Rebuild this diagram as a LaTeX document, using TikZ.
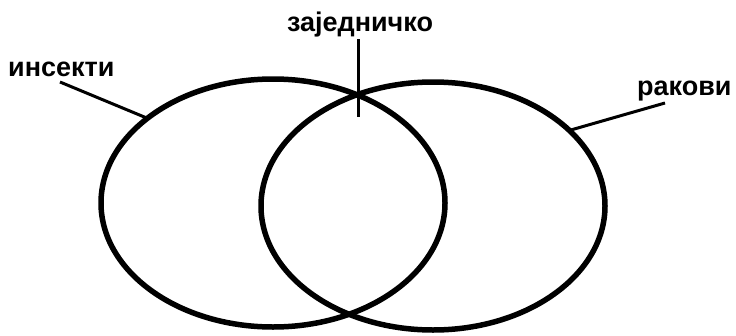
\documentclass[tikz,border=0pt]{standalone}
\usepackage{fontspec}
\setmainfont{Liberation Sans}
\usetikzlibrary{shapes.geometric}
\begin{document}
\begin{tikzpicture}[x=1pt,y=-1pt,
  lbl/.style={font=\bfseries\fontsize{27}{31}\selectfont, inner sep=0pt, text=black},
  setshape/.style={draw=black, ellipse, line width=5.5pt, inner sep=0pt, outer sep=0pt,
    minimum width=344pt, minimum height=248pt},
  lead/.style={line width=3pt, draw=black}]
\useasboundingbox (0,0) rectangle (736,335);
\node[setshape] (L) at (273,203) {};
\node[setshape] (R) at (433,206) {};
\node[lbl, anchor=base west] (ins) at (8,76) {инсекти};
\node[lbl, anchor=base] (zaj) at (360,31) {заједничко};
\node[lbl, anchor=base west] (rak) at (637,95) {ракови};
\coordinate (insend) at (60,82);
\coordinate (rakend) at (665,103);
\coordinate (ztop) at (358,39);
\coordinate (zbot) at (358,117);
\draw[lead] (insend) -- (L.146);
\draw[lead] (rakend) -- (R.29);
\draw[lead] (ztop) -- (zbot);
\end{tikzpicture}
\end{document}
